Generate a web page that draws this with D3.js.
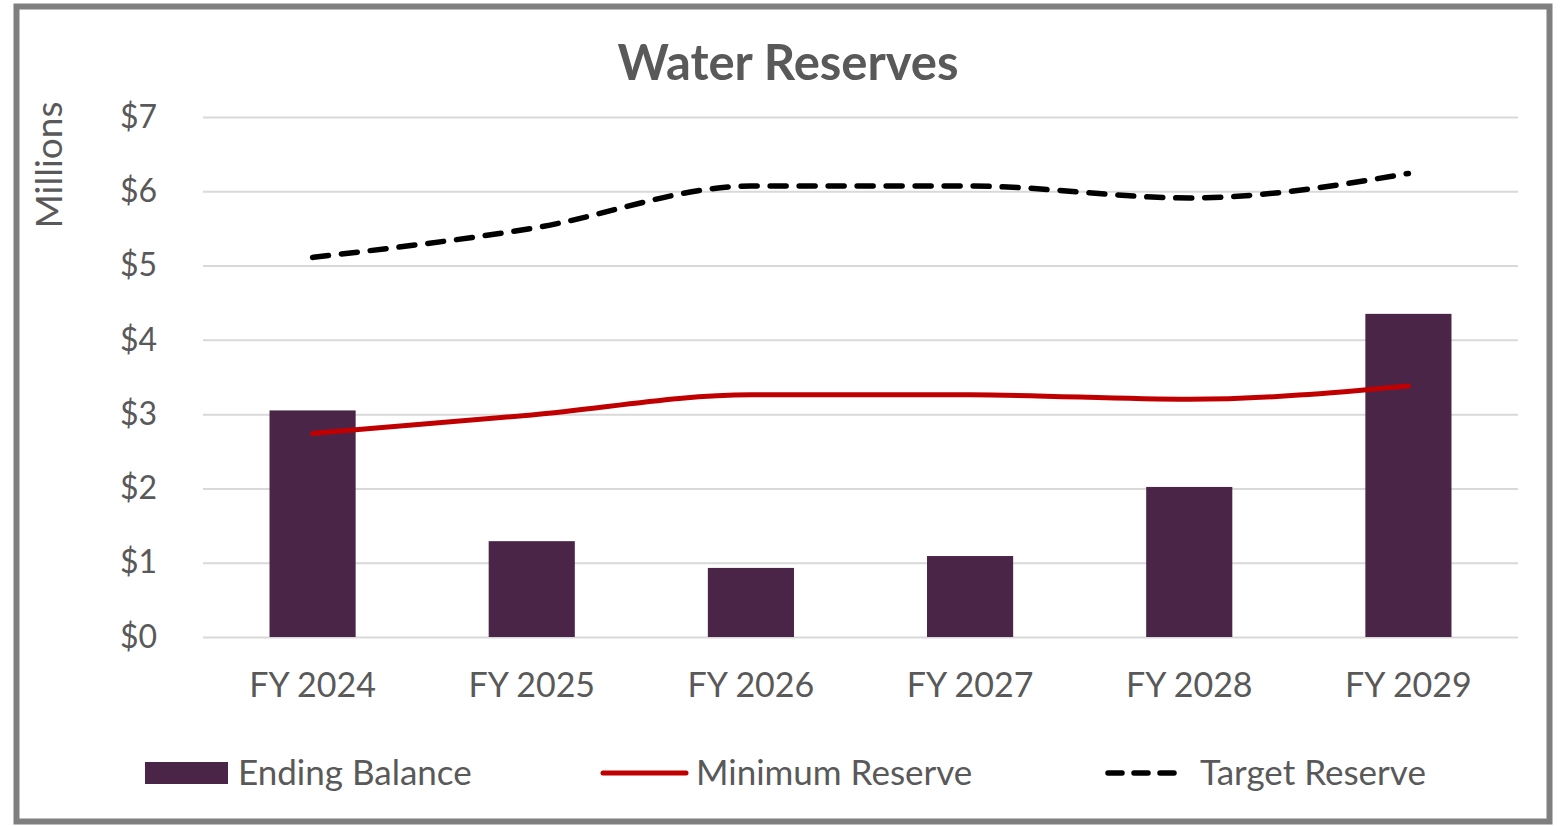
<!DOCTYPE html>
<html>
<head>
<meta charset="utf-8">
<script src="https://cdn.jsdelivr.net/npm/d3@7"></script>
<style>
  body { margin: 0; background: #fff; }
  text { font-family: Lato, "Open Sans", sans-serif; fill: #595959; }
</style>
</head>
<body>
<div id="canvas"></div>
<script>
// chart data
var years = ['FY 2024', 'FY 2025', 'FY 2026', 'FY 2027', 'FY 2028', 'FY 2029'];
var endingBalance = [3.05, 1.29, 0.93, 1.09, 2.02, 4.35];
var minimumReserve = [2.74, 2.99, 3.26, 3.26, 3.20, 3.38];
var targetReserve = [5.11, 5.50, 6.07, 6.07, 5.91, 6.24];
var yTicks = [0, 1, 2, 3, 4, 5, 6, 7];

var W = 1562, H = 826;
var m = {t:117, r:44, b:189, l:203};
var w = W - m.l - m.r,
    h = H - m.t - m.b;

var svg = d3.select('#canvas')
    .append('svg')
    .attr('width', W)
    .attr('height', H);

// outer frame
svg.append('rect')
    .attr('x', 16.5).attr('y', 6.5)
    .attr('width', 1533).attr('height', 815)
    .attr('fill', 'none')
    .attr('stroke', '#7f7f7f')
    .attr('stroke-width', 6);

var plot = svg.append('g')
    .attr('transform', 'translate(' + m.l + ',' + m.t + ')');

var scaleX = d3.scaleBand()
    .domain(years)
    .range([0, w])
    .paddingInner(0.607)
    .paddingOuter(0.3035);

var scaleY = d3.scaleLinear()
    .domain([0, 7])
    .range([h, 0]);

// gridlines + y labels
var axisY = d3.axisLeft(scaleY)
    .tickValues(yTicks)
    .tickSize(-w)
    .tickPadding(46)
    .tickFormat(function(d){ return '$' + d; });

plot.append('g')
    .attr('class', 'axis axis-y')
    .call(axisY)
    .call(function(g){
        g.select('.domain').remove();
        g.selectAll('line').attr('stroke', '#d9d9d9').attr('stroke-width', 2);
        g.selectAll('text').attr('font-size', 32).attr('fill', '#595959');
    });

var axisX = d3.axisBottom(scaleX).tickSize(0).tickPadding(36);
plot.append('g')
    .attr('transform', 'translate(0,' + h + ')')
    .call(axisX)
    .call(function(g){
        g.select('.domain').remove();
        g.selectAll('text').attr('font-size', 34).attr('fill', '#595959');
    });

// bars
plot.selectAll('.bar')
    .data(endingBalance)
    .enter()
    .append('rect')
    .attr('class', 'bar')
    .attr('x', function(d, i){ return scaleX(years[i]); })
    .attr('width', scaleX.bandwidth())
    .attr('y', function(d){ return scaleY(d); })
    .attr('height', function(d){ return h - scaleY(d); })
    .attr('fill', '#4a2547');

var line = d3.line()
    .x(function(d, i){ return scaleX(years[i]) + scaleX.bandwidth() / 2; })
    .y(function(d){ return scaleY(d); })
    .curve(d3.curveMonotoneX);

plot.append('path')
    .datum(minimumReserve)
    .attr('d', line)
    .attr('fill', 'none')
    .attr('stroke', '#c00000')
    .attr('stroke-width', 5)
    .attr('stroke-linecap', 'round');

plot.append('path')
    .datum(targetReserve)
    .attr('d', line)
    .attr('fill', 'none')
    .attr('stroke', '#000')
    .attr('stroke-width', 5.5)
    .attr('stroke-linecap', 'round')
    .attr('stroke-dasharray', '16,13');

// title
svg.append('text')
    .attr('x', 788).attr('y', 80)
    .attr('text-anchor', 'middle')
    .attr('font-size', 49)
    .attr('font-weight', 'bold')
    .text('Water Reserves');

// y axis title
svg.append('text')
    .attr('transform', 'translate(62,165) rotate(-90)')
    .attr('text-anchor', 'middle')
    .attr('font-size', 37)
    .text('Millions');

// legend
var lg = svg.append('g');
lg.append('rect')
    .attr('x', 145).attr('y', 762)
    .attr('width', 83).attr('height', 22)
    .attr('fill', '#4a2547');
lg.append('text').attr('x', 238).attr('y', 785).attr('font-size', 35).text('Ending Balance');

lg.append('line')
    .attr('x1', 603).attr('x2', 686).attr('y1', 773).attr('y2', 773)
    .attr('stroke', '#c00000').attr('stroke-width', 5).attr('stroke-linecap', 'round');
lg.append('text').attr('x', 696).attr('y', 785).attr('font-size', 35).text('Minimum Reserve');

lg.append('line')
    .attr('x1', 1108).attr('x2', 1184).attr('y1', 773).attr('y2', 773)
    .attr('stroke', '#000').attr('stroke-width', 5.5).attr('stroke-linecap', 'round')
    .attr('stroke-dasharray', '14,12');
lg.append('text').attr('x', 1200).attr('y', 785).attr('font-size', 35).text('Target Reserve');
</script>
</body>
</html>
